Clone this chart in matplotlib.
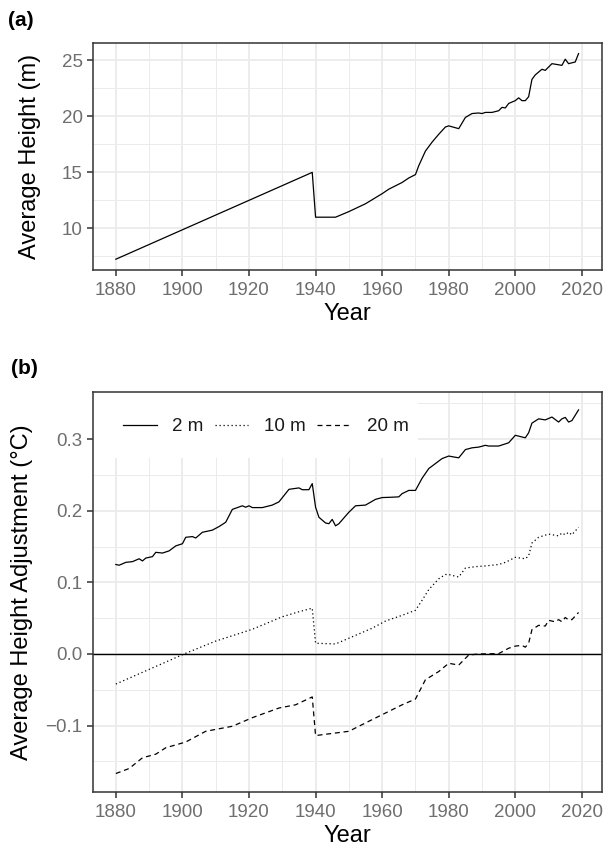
import matplotlib
matplotlib.use("Agg")
import matplotlib.pyplot as plt
from matplotlib.patches import Rectangle
import numpy as np

plt.rcParams['font.family'] = ['Liberation Sans', 'DejaVu Sans']

# ---------------- Data ----------------
years_a = [1880, 1939, 1940, 1946, 1950, 1955, 1960, 1962, 1966, 1968, 1970, 1971, 1973,
           1975, 1977, 1979, 1980, 1983, 1985, 1987, 1989, 1990, 1991, 1993, 1995, 1996,
           1997, 1998, 2000, 2001, 2002, 2003, 2004, 2005, 2006, 2008, 2009, 2011, 2014,
           2015, 2016, 2018, 2019]
height_a = [7.25, 15.0, 11.0, 11.0, 11.5, 12.2, 13.1, 13.5, 14.1, 14.5, 14.8, 15.6, 16.9,
            17.7, 18.4, 19.05, 19.15, 18.9, 19.9, 20.25, 20.3, 20.25, 20.35, 20.35, 20.5, 20.8,
            20.75, 21.15, 21.4, 21.65, 21.4, 21.4, 21.75, 23.3, 23.7, 24.2, 24.1, 24.7, 24.55,
            25.1, 24.7, 24.85, 25.6]

years_2m = [1880, 1881, 1883, 1885, 1887, 1888, 1889, 1891, 1892, 1894, 1896, 1898, 1900,
            1901, 1903, 1904, 1906, 1909, 1911, 1913, 1915, 1918, 1919, 1920, 1921, 1924,
            1927, 1929, 1932, 1935, 1936, 1938, 1939, 1940, 1941, 1943, 1944, 1945, 1946,
            1947, 1950, 1952, 1955, 1958, 1960, 1963, 1965, 1966, 1968, 1970, 1972, 1974,
            1978, 1980, 1983, 1985, 1987, 1989, 1991, 1992, 1995, 1998, 2000, 2003, 2004,
            2005, 2007, 2009, 2011, 2013, 2014, 2015, 2016, 2017, 2019]
adj_2m = [0.125, 0.124, 0.128, 0.129, 0.133, 0.130, 0.134, 0.136, 0.142, 0.141, 0.144, 0.151,
          0.154, 0.163, 0.164, 0.162, 0.170, 0.173, 0.178, 0.184, 0.202, 0.207, 0.205, 0.207,
          0.2045, 0.2045, 0.208, 0.2125, 0.230, 0.232, 0.2295, 0.2295, 0.238, 0.205, 0.191,
          0.183, 0.182, 0.188, 0.179, 0.182, 0.198, 0.207, 0.208, 0.216, 0.2185, 0.219, 0.2195,
          0.224, 0.2285, 0.2285, 0.2455, 0.259, 0.273, 0.2765, 0.274, 0.2855, 0.288, 0.289,
          0.2915, 0.2905, 0.2905, 0.295, 0.3055, 0.302, 0.309, 0.3225, 0.3285, 0.327, 0.331,
          0.324, 0.3285, 0.3305, 0.324, 0.326, 0.341]

years_10m = [1880, 1901, 1910, 1921, 1930, 1935, 1939, 1940, 1946, 1950, 1957, 1961, 1966,
             1970, 1972, 1974, 1977, 1979, 1980, 1983, 1985, 1988, 1991, 1995, 1997, 2000,
             2003, 2004, 2005, 2007, 2010, 2013, 2014, 2015, 2016, 2017, 2019]
adj_10m = [-0.042, 0.001, 0.018, 0.0345, 0.052, 0.059, 0.064, 0.015, 0.014, 0.022, 0.036,
           0.046, 0.054, 0.061, 0.075, 0.090, 0.105, 0.111, 0.111, 0.1075, 0.120, 0.122, 0.123,
           0.125, 0.128, 0.135, 0.133, 0.137, 0.155, 0.163, 0.1675, 0.165, 0.169, 0.1665, 0.170,
           0.1665, 0.177]

years_20m = [1880, 1884, 1888, 1892, 1895, 1901, 1907, 1915, 1921, 1929, 1934, 1939, 1940,
             1945, 1950, 1956, 1961, 1966, 1970, 1973, 1977, 1980, 1983, 1986, 1989, 1995,
             1998, 2000, 2002, 2003, 2004, 2005, 2007, 2009, 2010, 2012, 2013, 2014, 2015,
             2016, 2017, 2019]
adj_20m = [-0.167, -0.160, -0.145, -0.140, -0.131, -0.123, -0.108, -0.101, -0.089, -0.0755,
           -0.071, -0.060, -0.114, -0.111, -0.108, -0.094, -0.0825, -0.071, -0.063, -0.036,
           -0.0245, -0.013, -0.0155, -0.0015, 0.0, 0.0005, 0.008, 0.011, 0.012, 0.0095, 0.015,
           0.034, 0.040, 0.039, 0.047, 0.045, 0.048, 0.045, 0.051, 0.0475, 0.048, 0.058]

series_labels = ["2 m", "10 m", "20 m"]
x_major = [1880, 1900, 1920, 1940, 1960, 1980, 2000, 2020]
x_minor = [1890, 1910, 1930, 1950, 1970, 1990, 2010]
ya_major = [10, 15, 20, 25]
ya_minor = [7.5, 12.5, 17.5, 22.5]
yb_major = [-0.1, 0.0, 0.1, 0.2, 0.3]
yb_minor = [-0.15, -0.05, 0.05, 0.15, 0.25, 0.35]

# ---------------- Figure ----------------
W, H = 604, 848
fig = plt.figure(figsize=(W / 100, H / 100), dpi=100)

def fx(px):
    return px / W

def fy(py):
    return 1 - py / H

left, right = 92.7, 601.7
ax_a = fig.add_axes([fx(left), fy(269.5), fx(right - left), (269.5 - 43.3) / H])
ax_b = fig.add_axes([fx(left), fy(791.7), fx(right - left), (791.7 - 391.7) / H])

tick_color = '#6e6e6e'
spine_color = '#333333'
grid_color = '#EBEBEB'

def style(ax, ymaj, ymin):
    ax.set_xticks(x_major)
    ax.set_xticks(x_minor, minor=True)
    ax.set_yticks(ymaj)
    ax.set_yticks(ymin, minor=True)
    ax.grid(which='major', color=grid_color, lw=1.3)
    ax.grid(which='minor', color=grid_color, lw=0.7)
    ax.set_axisbelow(True)
    for s in ax.spines.values():
        s.set_color(spine_color)
        s.set_linewidth(1.1)
    ax.tick_params(which='major', length=4.3, width=1.1, color=spine_color,
                   labelsize=13.5, labelcolor=tick_color, pad=3)
    ax.tick_params(axis='x', which='major', pad=4.5)
    ax.tick_params(which='minor', length=0)

# Panel (a)
ax_a.plot(years_a, height_a, color='black', lw=0.9)
style(ax_a, ya_major, ya_minor)
ax_a.margins(x=0.05, y=0.05)
ax_a.set_ylabel("Average Height (m)", fontsize=17, va='center')
ax_a.yaxis.set_label_coords((30 - left) / (right - left), 0.5)
ax_a.set_xlabel("Year", fontsize=17, va='center')
ax_a.xaxis.set_label_coords(0.5, -44 / 226)

# Panel (b)
l1, = ax_b.plot(years_2m, adj_2m, color='black', lw=0.9, ls='-')
l2, = ax_b.plot(years_10m, adj_10m, color='black', lw=0.9, ls=(0, (1, 2.2)))
l3, = ax_b.plot(years_20m, adj_20m, color='black', lw=0.9, ls=(0, (4, 3)))
style(ax_b, yb_major, yb_minor)
ax_b.margins(x=0.05, y=0.05)
ax_b.axhline(0, color='black', lw=1.0, zorder=2)
ax_b.set_ylabel("Average Height Adjustment (°C)", fontsize=17, va='center')
ax_b.yaxis.set_label_coords((22 - left) / (right - left), 0.5)
ax_b.set_xlabel("Year", fontsize=17, va='center')
ax_b.xaxis.set_label_coords(0.5, -44 / 400)

# legend background
ax_b.add_patch(Rectangle((0, (791.7 - 458) / 400), (418 - left) / (right - left), 0.2,
                         transform=ax_b.transAxes, facecolor='white', edgecolor='none',
                         zorder=1, clip_on=True))
leg = ax_b.legend([l1, l2, l3], series_labels, loc='center', ncol=3,
                  bbox_to_anchor=((265.9 - left) / (right - left), (791.7 - 426.7) / 400),
                  frameon=False, fontsize=13.5, handlelength=1.78, handletextpad=0.85,
                  columnspacing=0.6, borderpad=0, borderaxespad=0)
for t in leg.get_texts():
    t.set_color('#1a1a1a')

fig.text(fx(8.3), fy(20), "(a)", fontsize=15, fontweight='bold', va='center', ha='left')
fig.text(fx(11), fy(368), "(b)", fontsize=15, fontweight='bold', va='center', ha='left')

fig.savefig("out.png", dpi=100)
